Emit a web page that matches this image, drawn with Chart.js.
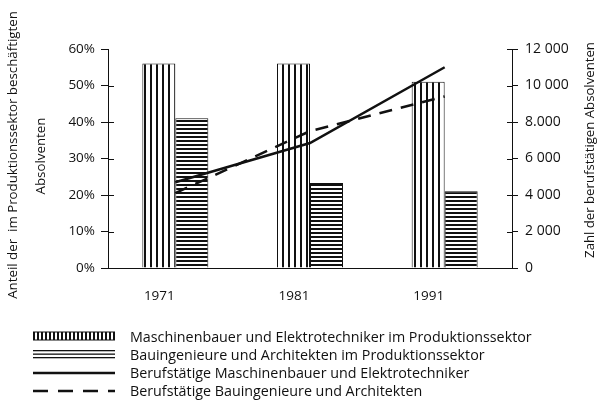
<!DOCTYPE html>
<html>
<head>
<meta charset="utf-8">
<script src="https://cdn.jsdelivr.net/npm/chart.js@4/dist/chart.umd.min.js"></script>
<style>
body { margin: 0; background: #fff; font-family: "Open Sans", sans-serif; }
#wrap { position: relative; width: 614px; height: 418px; }
#chart { position: absolute; left: 0; top: 0; }
#legend { position: absolute; left: 33px; top: 327px; }
.row { display: flex; align-items: center; height: 18px; }
.row canvas { margin-right: 15px; }
.row span { font-size: 14.3px; color: #111; white-space: nowrap; }
</style>
</head>
<body>
<div id="wrap">
  <canvas id="chart" width="614" height="310"></canvas>
  <div id="legend"></div>
</div>
<script>
"use strict";

// data
const years = ["1971", "1981", "1991"];
const maschinenShare = [56, 56, 51];        // % im Produktionssektor
const bauShare = [41, 23.3, 21];
const maschinenCount = [4700, 6850, 11000]; // berufstätige Absolventen
const bauCount = [4100, 7500, 9400];

const shareTicks = ["0%", "10%", "20%", "30%", "40%", "50%", "60%"];
const countTicks = ["0", "2 000", "4 000", "6 000", "8.000", "10 000", "12 000"];

const seriesNames = [
    "Maschinenbauer und Elektrotechniker im Produktionssektor",
    "Bauingenieure und Architekten im Produktionssektor",
    "Berufstätige Maschinenbauer und Elektrotechniker",
    "Berufstätige Bauingenieure und Architekten"
];
const leftTitle = ["Anteil der  im Produktionssektor beschäftigten", "Absolventen"];
const rightTitle = "Zahl der berufstätigen Absolventen";

const INK = "#111";
const FONT = "'Open Sans', sans-serif";

// hatch fills
function stripePattern(vertical) {
    const c = document.createElement("canvas");
    c.width = vertical ? 6 : 1;
    c.height = vertical ? 1 : 4;
    const g = c.getContext("2d");
    g.fillStyle = "#fff";
    g.fillRect(0, 0, c.width, c.height);
    g.fillStyle = INK;
    if (vertical) g.fillRect(0, 0, 2, 1);
    else g.fillRect(0, 0, 1, 2);
    return g.createPattern(c, "repeat");
}

const ctx = document.getElementById("chart").getContext("2d");
const vertFill = stripePattern(true);
const horzFill = stripePattern(false);

// font size that makes `text` span `len` px
function fitSize(c, text, len) {
    c.font = "12px " + FONT;
    return 12 * len / c.measureText(text).width;
}

// rotated text, reads bottom to top
function drawUp(c, text, x, y, size) {
    c.font = size.toFixed(2) + "px " + FONT;
    c.save();
    c.translate(x, y);
    c.rotate(-Math.PI / 2);
    c.fillText(text, 0, 0);
    c.restore();
}

// axis titles and inner half of the cross ticks
const axisExtras = {
    id: "axisExtras",
    afterDraw(chart) {
        const c = chart.ctx;
        const y = chart.scales.y, y1 = chart.scales.y1;
        c.save();
        c.strokeStyle = INK;
        c.lineWidth = 1;
        y.ticks.forEach((t, i) => {
            if (i === y.ticks.length - 1) return;
            const py = Math.round(y.getPixelForTick(i)) + 0.5;
            c.beginPath(); c.moveTo(y.right, py); c.lineTo(y.right + 6, py); c.stroke();
        });
        y1.ticks.forEach((t, i) => {
            const py = Math.round(y1.getPixelForTick(i)) + 0.5;
            c.beginPath(); c.moveTo(y1.left - 5, py); c.lineTo(y1.left, py); c.stroke();
        });
        c.fillStyle = INK;
        c.textAlign = "center";
        c.textBaseline = "middle";
        const leftSize = fitSize(c, leftTitle[0], 288);
        drawUp(c, leftTitle[0], 13, 155, leftSize);
        drawUp(c, leftTitle[1], 41, 156, leftSize);
        drawUp(c, rightTitle, 590, 150, fitSize(c, rightTitle, 216));
        c.restore();
    }
};

new Chart(ctx, {
    type: "bar",
    data: {
        labels: years,
        datasets: [
            {
                label: seriesNames[0], data: maschinenShare, yAxisID: "y", order: 2,
                backgroundColor: vertFill, borderColor: INK, borderWidth: 1,
                barPercentage: 1, categoryPercentage: 0.49
            },
            {
                label: seriesNames[1], data: bauShare, yAxisID: "y", order: 2,
                backgroundColor: horzFill, borderColor: INK, borderWidth: 1,
                barPercentage: 1, categoryPercentage: 0.49
            },
            {
                type: "line", label: seriesNames[2], data: maschinenCount, yAxisID: "y1", order: 0,
                borderColor: INK, borderWidth: 2.5, pointRadius: 0, fill: false, tension: 0
            },
            {
                type: "line", label: seriesNames[3], data: bauCount, yAxisID: "y1", order: 1,
                borderColor: INK, borderWidth: 2.5, borderDash: [13, 9], pointRadius: 0, fill: false, tension: 0
            }
        ]
    },
    options: {
        responsive: false,
        animation: false,
        layout: { padding: { top: 49, left: 0, right: 0, bottom: 0 } },
        plugins: { legend: { display: false }, tooltip: { enabled: false } },
        scales: {
            x: {
                grid: { display: false },
                border: { color: INK, width: 1 },
                ticks: { color: INK, padding: 12, labelOffset: -16, font: { family: FONT, size: 13.5 } },
                afterFit(s) { s.height = 42; }
            },
            y: {
                position: "left", min: 0, max: 60,
                ticks: { stepSize: 10, color: INK, padding: 6, font: { family: FONT, size: 13.5 },
                         callback: (v, i) => shareTicks[i] },
                grid: { drawOnChartArea: false, tickLength: 7, color: INK },
                border: { color: INK, dash: [7, 2, 1, 2] },
                afterFit(s) { s.width = 108; }
            },
            y1: {
                position: "right", min: 0, max: 12000,
                ticks: { stepSize: 2000, color: INK, padding: 7, font: { family: FONT, size: 14 },
                         callback: (v, i) => countTicks[i] },
                grid: { drawOnChartArea: false, tickLength: 6, color: INK },
                border: { color: INK, dash: [7, 2, 1, 2] },
                afterFit(s) { s.width = 102; }
            }
        }
    },
    plugins: [axisExtras]
});

// legend with the same hatch swatches
function swatch(kind) {
    const c = document.createElement("canvas");
    c.width = 82; c.height = 12;
    const g = c.getContext("2d");
    g.strokeStyle = INK;
    g.fillStyle = INK;
    if (kind === 0) {
        for (let x = 0; x < 82; x += 4) g.fillRect(x, 2, 2, 8);
        g.fillRect(0, 1.5, 82, 1);
        g.fillRect(0, 9.5, 82, 1);
    } else if (kind === 1) {
        g.fillRect(0, 2, 82, 1.3);
        g.fillRect(0, 5.5, 82, 1.3);
        g.fillRect(0, 9, 82, 1.3);
    } else {
        g.lineWidth = 2.5;
        if (kind === 3) g.setLineDash([15, 10]);
        g.beginPath(); g.moveTo(0, 7); g.lineTo(82, 7); g.stroke();
    }
    return c;
}

const legendBox = document.getElementById("legend");
seriesNames.forEach((name, i) => {
    const row = document.createElement("div");
    row.className = "row";
    row.appendChild(swatch(i));
    const span = document.createElement("span");
    span.textContent = name;
    row.appendChild(span);
    legendBox.appendChild(row);
});
</script>
</body>
</html>
